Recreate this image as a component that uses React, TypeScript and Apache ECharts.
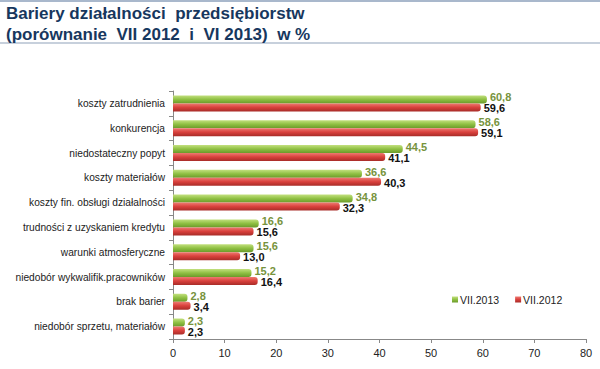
import React, { useEffect, useRef } from "react";
import * as echarts from "echarts";

const categories = [
  "koszty zatrudnienia",
  "konkurencja",
  "niedostateczny popyt",
  "koszty materiałów",
  "koszty fin. obsługi działalności",
  "trudności z uzyskaniem kredytu",
  "warunki atmosferyczne",
  "niedobór wykwalifik.pracowników",
  "brak barier",
  "niedobór sprzetu, materiałów",
];
const values2013 = [60.8, 58.6, 44.5, 36.6, 34.8, 16.6, 15.6, 15.2, 2.8, 2.3];
const values2012 = [59.6, 59.1, 41.1, 40.3, 32.3, 15.6, 13.0, 16.4, 3.4, 2.3];
const seriesNames = ["VII.2013", "VII.2012"];
const xTicks = [0, 10, 20, 30, 40, 50, 60, 70, 80];
const titleLines = ["Bariery działalności  przedsiębiorstw", "(porównanie  VII 2012  i  VI 2013)  w %"];

const fmt = (v: number) => v.toFixed(1).replace(".", ",");
const FONT = "'Liberation Sans', Arial, sans-serif";

export default function App() {
  const ref = useRef<HTMLDivElement>(null);
  useEffect(() => {
    if (!ref.current) return;
    const chart = echarts.init(ref.current, undefined, { renderer: "svg" });
    const green = new echarts.graphic.LinearGradient(0, 0, 0, 1, [
      { offset: 0, color: "#c3e07f" },
      { offset: 0.5, color: "#8fc043" },
      { offset: 1, color: "#6b9a2a" },
    ]);
    const red = new echarts.graphic.LinearGradient(0, 0, 0, 1, [
      { offset: 0, color: "#ee7a72" },
      { offset: 0.5, color: "#d9403c" },
      { offset: 1, color: "#a82c28" },
    ]);
    chart.setOption({
      animation: false,
      backgroundColor: "#ffffff",
      graphic: [
        { type: "rect", shape: { x: 0, y: 0, width: 600, height: 2 }, style: { fill: "#a9b8cc" } },
        { type: "line", shape: { x1: 0, y1: 43, x2: 600, y2: 43 }, style: { stroke: "#b4c0d0", lineWidth: 1.5 } },
        {
          type: "text",
          left: 6,
          top: 3,
          style: {
            text: titleLines.join("\n"),
            font: "bold 17px " + FONT,
            fill: "#17375e",
            lineHeight: 21,
          },
        },
      ],
      legend: {
        data: seriesNames,
        left: 447,
        top: 289,
        itemWidth: 6,
        itemHeight: 6,
        itemGap: 16,
        icon: "rect",
        textStyle: { fontSize: 10.5, color: "#222", fontFamily: FONT, padding: [0, 0, 0, -3] },
      },
      grid: { left: 173, right: 14, top: 91, bottom: 30, containLabel: false },
      xAxis: {
        type: "value",
        min: 0,
        max: 80,
        interval: 10,
        splitLine: { show: false },
        axisLine: { show: true, lineStyle: { color: "#888" } },
        axisTick: { show: true, length: 4, lineStyle: { color: "#888" } },
        axisLabel: {
          fontSize: 11,
          color: "#222",
          fontFamily: FONT,
          margin: 8,
          formatter: (v: number) => (xTicks.includes(v) ? String(v) : ""),
        },
      },
      yAxis: {
        type: "category",
        data: categories,
        inverse: true,
        axisLine: { show: true, lineStyle: { color: "#888" } },
        axisTick: { show: true, length: 4, lineStyle: { color: "#888" } },
        axisLabel: {
          fontSize: 10.2,
          color: "#222",
          fontFamily: FONT,
          margin: 8,
        },
      },
      series: [
        {
          name: seriesNames[0],
          type: "bar",
          data: values2013,
          barWidth: 8,
          barGap: "0%",
          itemStyle: { color: green, borderRadius: [0, 3, 3, 0] },
          label: {
            show: true,
            position: "right",
            distance: 3,
            offset: [0, -2],
            formatter: (p: any) => fmt(p.value),
            color: "#77933c",
            fontSize: 11,
            fontWeight: "bold",
            fontFamily: FONT,
          },
        },
        {
          name: seriesNames[1],
          type: "bar",
          data: values2012,
          barWidth: 8,
          barGap: "0%",
          itemStyle: { color: red, borderRadius: [0, 3, 3, 0] },
          label: {
            show: true,
            position: "right",
            distance: 3,
            offset: [0, 1],
            formatter: (p: any) => fmt(p.value),
            color: "#111",
            fontSize: 11,
            fontWeight: "bold",
            fontFamily: FONT,
          },
        },
      ],
      color: ["#8fc043", "#d9403c"],
    });
    return () => chart.dispose();
  }, []);
  return <div ref={ref} style={{ width: 600, height: 369, position: "absolute", left: 0, top: 0 }} />;
}
